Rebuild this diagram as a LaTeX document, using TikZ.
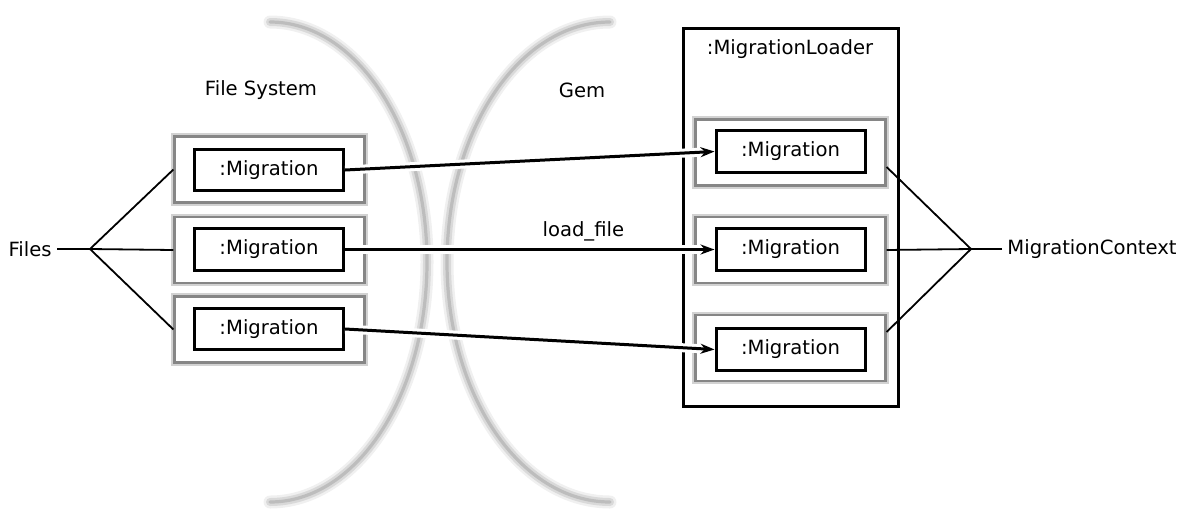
\documentclass[tikz,border=0pt]{standalone}
\usepackage{fontspec}
\setmainfont{DejaVu Sans}
\usetikzlibrary{arrows.meta,positioning}

\begin{document}
\begin{tikzpicture}[
  x=0.5pt,y=-0.5pt,
  font=\fontsize{9.8pt}{12pt}\selectfont,
  mig/.style={draw,line width=1.5pt,fill=white,minimum width=74.5pt,minimum height=20.8pt,inner sep=0pt},
  slot/.style={draw=gray!95,line width=1.1pt,fill=white,minimum width=95pt,minimum height=33pt,
    preaction={draw=gray!35,line width=3.2pt}},
  ldrbox/.style={draw,line width=1.5pt,minimum width=107.5pt,minimum height=189pt},
  haze/.style={draw=gray!52,line width=1.6pt,line cap=round,
    preaction={draw=gray!12,line width=6.5pt,line cap=round},
    preaction={draw=gray!30,line width=4pt,line cap=round}},
  ar/.style={-{Stealth[length=7pt,width=5pt]},line width=1.5pt},
  br/.style={line width=0.9pt}
]
\useasboundingbox (0,0) rectangle (1188,531);

% the two hazy borders
\draw[haze] (270,22) .. controls (356.7,22) and (427,129.4) .. (427,262)
  .. controls (427,394.6) and (356.7,502) .. (270,502);
\draw[haze] (610,22) .. controls (520,22) and (447,129.4) .. (447,262)
  .. controls (447,394.6) and (520,502) .. (610,502);

\node (fslbl) at (261,90) {File System};
\node (gemlbl) at (582,90) {Gem};

% file system side
\node[slot] (fs1) at (269.5,169.5) {};
\node[slot] (fs2) at (269.5,250) {};
\node[slot] (fs3) at (269.5,329.5) {};
\node[mig] (fm1) at (269,170) {:Migration};
\node[mig] (fm2) at (269,249.5) {:Migration};
\node[mig] (fm3) at (269,329) {:Migration};

% gem side
\node[ldrbox] (ldr) at (790.5,217.5) {};
\node (ldrlbl) at (790,49) {:MigrationLoader};
\node[slot] (gs1) at (790.5,152.5) {};
\node[slot] (gs2) at (790.5,250) {};
\node[slot] (gs3) at (790.5,348) {};
\node[mig] (gm1) at (790.5,151.5) {:Migration};
\node[mig] (gm2) at (790.5,249.5) {:Migration};
\node[mig] (gm3) at (790.5,349.5) {:Migration};

\draw[white,line width=4.5pt] (fm1.east) -- (gm1.west);
\draw[white,line width=4.5pt] (fm2.east) -- (gm2.west);
\draw[white,line width=4.5pt] (fm3.east) -- (gm3.west);
\draw[ar] (fm1.east) -- (gm1.west);
\draw[ar] (fm2.east) -- node[above,pos=0.645] {load\_file} (gm2.west);
\draw[ar] (fm3.east) -- (gm3.west);

% Files
\node[anchor=east,inner sep=2.5pt] (files) at (57,249) {Files};
\coordinate (fj) at (90,249);
\draw[br] (files) -- (fj);
\draw[br] (fj) -- (fs1.west);
\draw[br] (fj) -- (fs2.west);
\draw[br] (fj) -- (fs3.west);

% MigrationContext
\node[anchor=west,inner sep=2.5pt] (ctx) at (1002,249) {MigrationContext};
\coordinate (cj) at (971,249);
\draw[br] (ctx) -- (cj);
\draw[br] (cj) -- ([yshift=-7.25pt]gs1.east);
\draw[br] (cj) -- (gs2.east);
\draw[br] (cj) -- ([yshift=8pt]gs3.east);
\end{tikzpicture}
\end{document}
